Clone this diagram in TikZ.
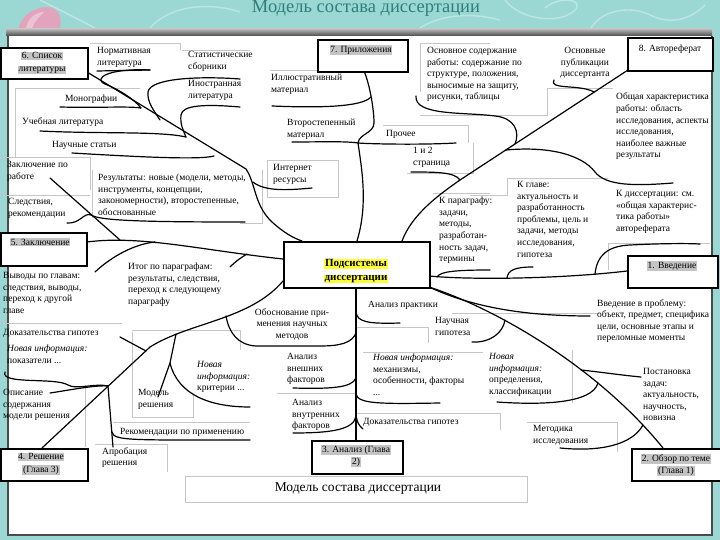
\documentclass[tikz,border=0pt]{standalone}
\usepackage{fontspec}
\setmainfont{Liberation Serif}
\setlength{\fboxsep}{0.7pt}
\definecolor{bgteal}{HTML}{9CD8D3}
\definecolor{titleteal}{HTML}{2E7F7C}
\definecolor{framegray}{HTML}{4A4A4A}
\definecolor{hlgray}{HTML}{C4C4C4}
\definecolor{hlyellow}{HTML}{FFFF33}
\definecolor{blobpink}{HTML}{E2A3BC}
\tikzset{
  txt/.style={anchor=north west, inner sep=0pt, align=left, font=\fontsize{9.5}{11.6}\selectfont, execute at begin node=\strut},
  ctxt/.style={txt, anchor=north, align=center},
  catbox/.style={draw=black, line width=1.8pt, fill=white, anchor=north west, inner sep=0pt},
  catlbl/.style={inner sep=0pt, align=center, font=\fontsize{9.5}{12.5}\selectfont},
  br/.style={draw=black, line width=1.2pt, line cap=round},
  gbox/.style={draw=gray!45, line width=0.5pt},
  swirl/.style={draw=white, opacity=0.35, line width=1.4pt}
}
\begin{document}
\begin{tikzpicture}[x=1pt,y=-1pt]
\useasboundingbox (0,0) rectangle (720,540);
\fill[bgteal] (0,0) rectangle (720,540);
% decorative swirls
\draw[swirl] (40,0) .. controls (60,10) and (80,20) .. (95,28);
\draw[swirl] (150,28) .. controls (170,5) and (210,2) .. (240,12);
\draw[swirl] (505,0) .. controls (520,20) and (560,25) .. (575,10) .. controls (585,0) and (560,-5) .. (545,8);
\draw[swirl] (590,30) .. controls (600,10) and (630,5) .. (650,15) .. controls (670,25) and (690,20) .. (705,5);
\draw[swirl] (420,28) .. controls (440,15) and (470,12) .. (500,20);
% pink blob
\fill[blobpink] (18,31) .. controls (20,16) and (34,7) .. (48,7) .. controls (60,8) and (63,20) .. (59,31) -- cycle;
\fill[white, opacity=0.35] (26,28) .. controls (28,18) and (36,12) .. (44,12) .. controls (40,16) and (34,22) .. (32,28) -- cycle;
% title
\node[font=\fontsize{18.5}{19}\selectfont, text=titleteal, anchor=base, inner sep=0pt] (title) at (366,13) {Модель состава диссертации};
% panel
\fill[white] (8,34) rectangle (712,535);
\shade[top color=gray!55, bottom color=framegray] (6,29) rectangle (712,36);
\draw[framegray, line width=2.2pt] (8,36) -- (8,535) -- (712,535) -- (712,36);
% faint box outlines
\draw[gbox] (90,43) -- (180,43) -- (180,50);
\draw[gbox] (182,50) -- (250,50);
\draw[gbox] (15,157) -- (15,88) -- (140,88);
\draw[gbox] (0,157) -- (90,157) -- (90,190);
\draw[gbox] (92,170) -- (92,218);
\draw[gbox] (262,170) -- (262,223) -- (240,223);
\draw[gbox] (0,195) -- (90,195);
\draw[gbox] (270,70) -- (317,70);
\draw[gbox] (420,92) -- (420,43) -- (490,43);
\draw[gbox] (420,115) -- (547,115) -- (547,88) -- (613,88);
\draw[gbox] (383,125) -- (468,125) -- (468,143);
\draw[gbox] (407,173) -- (473,173) -- (473,143);
\draw[gbox] (267,197) -- (267,160) -- (338,160) -- (338,197) -- (267,197);
\draw[gbox] (470,195) -- (507,195) -- (507,178) -- (608,178);
\draw[gbox] (608,270) -- (608,243) -- (710,243);
\draw[gbox] (433,193) -- (490,193);
\draw[gbox] (0,323) -- (122,323);
\draw[gbox] (132,330) -- (240,330) -- (240,350);
\draw[gbox] (132,332) -- (132,417) -- (193,417) -- (193,395);
\draw[gbox] (85,385) -- (85,447);
\draw[gbox] (95,444) -- (167,444) -- (167,472);
\draw[gbox] (113,422) -- (250,422);
\draw[gbox] (357,327) -- (428,327) -- (428,343);
\draw[gbox] (452,313) -- (600,313);
\draw[gbox] (363,352) -- (483,352);
\draw[gbox] (572,350) -- (572,403);
\draw[gbox] (357,413) -- (500,413) -- (500,430);
\draw[gbox] (527,422) -- (617,422) -- (617,452);
\draw[gbox] (277,393) -- (355,393);
\draw[gbox] (185,476) rectangle (527,502);

% ---------- coordinates ----------
% branch 6
\coordinate (r6s) at (87,72);  \coordinate (r6m) at (246,169); \coordinate (r6e) at (302,241);
\coordinate (j6a) at (141,108); \coordinate (j6b) at (160,120); \coordinate (j6c) at (186,137);
\coordinate (j6d) at (214,156); \coordinate (j6e) at (253,182);
\coordinate (n6) at (150,70); \coordinate (n6u) at (97,71);
\coordinate (s6) at (240,79); \coordinate (i6) at (240,107);
\coordinate (m6) at (60,107); \coordinate (u6) at (40,131); \coordinate (ns6) at (72,153);
\coordinate (ir6) at (312,188);
% branch 7
\coordinate (r7s) at (364,71); \coordinate (r7e) at (357,241);
\coordinate (j7a) at (371,97); \coordinate (j7b) at (358,143);
\coordinate (il7) at (272,106); \coordinate (vt7) at (292,142); \coordinate (pr7) at (456,143);
\coordinate (st7) at (411,172);
% branch 8
\coordinate (r8s) at (628,70); \coordinate (r8m) at (460,180); \coordinate (r8e) at (402,241);
\coordinate (j8b) at (594,92); \coordinate (j8c) at (515,144); \coordinate (j8d) at (506,150);
\coordinate (pb8) at (554,80); \coordinate (os8) at (416,96); \coordinate (ob8) at (673,183);
% branch 5
\coordinate (r5s) at (87,242); \coordinate (r5e) at (283,259);
\coordinate (j5a) at (120,240); \coordinate (j5b) at (155,242); \coordinate (j5c) at (247,254);
\coordinate (zr5) at (50,178); \coordinate (sl5) at (67,223); \coordinate (rz5) at (245,222);
\coordinate (vy5) at (95,272); \coordinate (it5) at (230,267);
% branch 1
\coordinate (r1s) at (429,276); \coordinate (r1e) at (627,271);
\coordinate (j1a) at (437,277); \coordinate (j1b) at (507,278); \coordinate (j1c) at (595,274);
\coordinate (tm1) at (490,270); \coordinate (kg1) at (533,267); \coordinate (kd1) at (700,244);
% branch 2
\coordinate (r2s) at (429,287); \coordinate (r2e) at (663,448);
\coordinate (j2a) at (505,320); \coordinate (j2b) at (581,370); \coordinate (j2c) at (598,383); \coordinate (j2d) at (643,425);
\coordinate (vp2) at (590,316); \coordinate (ng2) at (472,342); \coordinate (ps2) at (641,377);
\coordinate (op2) at (497,402); \coordinate (mt2) at (560,448);
% branch 3
\coordinate (r3s) at (356,287); \coordinate (r3e) at (356,440);
\coordinate (j3a) at (356,312); \coordinate (j3b) at (356,333); \coordinate (j3c) at (356,378);
\coordinate (j3d) at (356,394); \coordinate (j3e) at (356,416);
\coordinate (ap3) at (400,323); \coordinate (vn3) at (293,388); \coordinate (mh3) at (440,403);
\coordinate (vu3) at (293,433); \coordinate (dk3) at (363,429);
% branch 4
\coordinate (r4s) at (42,448); \coordinate (r4m) at (150,347); \coordinate (r4e) at (283,281);
\coordinate (j4a) at (108,386); \coordinate (j4b) at (146,351); \coordinate (j4c) at (226,316);
\coordinate (j4d) at (176,334); \coordinate (j4e) at (112,432);
\coordinate (ap4) at (113,447); \coordinate (op4) at (50,393); \coordinate (pk4) at (5,372);
\coordinate (dk4) at (120,337); \coordinate (md4) at (158,397); \coordinate (mk4) at (170,363);
\coordinate (kr4) at (250,407); \coordinate (rk4) at (250,440);

% ---------- connectors ----------
% branch 6
\draw[br] (r6s) -- (r6m) .. controls (256,184) and (254,205) .. (272,222) .. controls (283,232) and (293,238) .. (r6e);
\draw[br] (n6u) -- (n6);
\draw[br] (n6) .. controls (110,68) and (92,78) .. (105,84) .. controls (120,90) and (135,100) .. (j6a);
\draw[br] (s6) .. controls (200,76) and (150,78) .. (148,92) .. controls (147,103) and (155,112) .. (j6b);
\draw[br] (i6) .. controls (205,104) and (182,105) .. (181,115) .. controls (180,124) and (183,130) .. (j6c);
\draw[br] (m6) .. controls (100,108) and (128,106) .. (j6a);
\draw[br] (u6) .. controls (100,134) and (160,131) .. (j6c);
\draw[br] (ns6) .. controls (140,157) and (200,160) .. (j6d);
\draw[br] (j6e) .. controls (265,192) and (290,190) .. (ir6);
% branch 7
\draw[br] (r7s) .. controls (370,85) and (374,110) .. (374,123) .. controls (374,133) and (359,134) .. (j7b) .. controls (362,170) and (368,205) .. (r7e);
\draw[br] (j7a) .. controls (362,107) and (320,108) .. (il7);
\draw[br] (j7b) .. controls (345,141) and (320,142) .. (vt7);
\draw[br] (j7b) .. controls (372,144) and (420,145) .. (pr7);
\draw[br] (st7) .. controls (435,172) and (455,172) .. (r8m);
% branch 8
\draw[br] (r8s) -- (r8m) .. controls (440,194) and (412,214) .. (r8e);
\draw[br] (pb8) .. controls (548,90) and (580,84) .. (j8b);
\draw[br] (os8) .. controls (414,116) and (465,112) .. (495,116) .. controls (515,118) and (520,132) .. (j8c);
\draw[br] (j8d) .. controls (550,146) and (582,155) .. (595,172) .. controls (606,186) and (635,186) .. (ob8);
% branch 5
\draw[br] (r5s) .. controls (140,235) and (200,250) .. (r5e);
\draw[br] (zr5) -- (j5a);
\draw[br] (sl5) .. controls (80,224) and (84,212) .. (91,215) .. controls (100,221) and (150,222) .. (rz5);
\draw[br] (vy5) .. controls (112,256) and (135,244) .. (j5b);
\draw[br] (it5) .. controls (236,261) and (242,257) .. (j5c);
% branch 1
\draw[br] (r1s) .. controls (470,280) and (560,279) .. (r1e);
\draw[br] (j1a) .. controls (440,271) and (460,270) .. (tm1);
\draw[br] (j1b) .. controls (508,270) and (515,267) .. (kg1);
\draw[br] (j1c) .. controls (597,255) and (608,246) .. (630,245) .. controls (650,244) and (680,243) .. (kd1);
% branch 2
\draw[br] (r2s) .. controls (500,310) and (600,370) .. (r2e);
\draw[br] (r2s) .. controls (470,306) and (520,316) .. (vp2);
\draw[br] (ng2) .. controls (490,343) and (503,333) .. (j2a);
\draw[br] (j2b) .. controls (600,372) and (620,375) .. (ps2);
\draw[br] (op2) .. controls (540,405) and (592,404) .. (j2c);
\draw[br] (mt2) .. controls (600,452) and (632,445) .. (j2d);
% branch 3
\draw[br] (r3s) -- (r3e);
\draw[br] (j3a) .. controls (357,322) and (368,324) .. (ap3);
\draw[br] (j3b) .. controls (352,343) and (340,346) .. (320,346) -- (256,346) .. controls (238,345) and (229,333) .. (j4c);
\draw[br] (j3c) .. controls (352,388) and (330,389) .. (vn3);
\draw[br] (j3d) .. controls (358,404) and (380,404) .. (mh3);
\draw[br] (j3e) .. controls (354,430) and (330,433) .. (vu3);
\draw[br] (j3e) .. controls (358,424) .. (dk3);
% branch 4
\draw[br] (r4s) -- (r4m) .. controls (190,322) and (250,320) .. (r4e);
\draw[br] (j4a) -- (ap4);
\draw[br] (op4) .. controls (70,390) and (95,385) .. (j4a);
\draw[br] (pk4) .. controls (0,385) and (55,377) .. (68,385) .. controls (76,390) and (95,383) .. (j4a);
\draw[br] (dk4) -- (j4b);
\draw[br] (md4) -- (mk4) -- (j4d);
\draw[br] (mk4) .. controls (178,395) and (210,407) .. (kr4);
\draw[br] (j4e) .. controls (114,441) and (130,440) .. (rk4);

% ---------- texts ----------
\node[txt] (t1) at (97,47) {Нормативная\\литература};
\node[txt] (t2) at (188,51) {Статистические\\сборники};
\node[txt] (t3) at (188,80) {Иностранная\\литература};
\node[txt] (t4) at (65,93) {Монографии};
\node[txt] (t5) at (22,116) {Учебная литература};
\node[txt] (t6) at (52,139) {Научные статьи};
\node[txt] (t7) at (7,161) {Заключение по\\работе};
\node[txt] (t8) at (98,174) {Результаты: новые (модели, методы,\\инструменты, концепции,\\закономерности), второстепенные,\\обоснованные};
\node[txt] (t9) at (8,198) {Следствия,\\рекомендации};
\node[txt] (t10) at (3,272) {Выводы по главам:\\следствия, выводы,\\переход к другой\\главе};
\node[txt] (t11) at (128,263) {Итог по параграфам:\\результаты, следствия,\\переход к следующему\\параграфу};
\node[txt] (t12) at (3,327) {Доказательства гипотез};
\node[txt] (t13) at (7,345) {\textit{Новая информация:}\\показатели ...};
\node[txt] (t14) at (3,389) {Описание\\содержания\\модели решения};
\node[txt] (t15) at (138,389) {Модель\\решения};
\node[txt] (t16) at (197,361) {\textit{Новая}\\\textit{информация:}\\критерии ...};
\node[txt] (t17) at (120,426) {Рекомендации по применению};
\node[txt] (t18) at (102,447) {Апробация\\решения};
\node[txt] (t19) at (271,74) {Иллюстративный\\материал};
\node[txt] (t20) at (287,119) {Второстепенный\\материал};
\node[txt] (t21) at (386,128) {Прочее};
\node[txt] (t22) at (413,147) {1 и 2\\страница};
\node[txt] (t23) at (273,164) {Интернет\\ресурсы};
\node[txt] (t24) at (427,47) {Основное содержание\\работы: содержание по\\структуре, положения,\\выносимые на защиту,\\рисунки, таблицы};
\node[ctxt] (t25) at (585,47) {Основные\\публикации\\диссертанта};
\node[txt] (t26) at (616,93) {Общая характеристика\\работы: область\\исследования, аспекты\\исследования,\\наиболее важные\\результаты};
\node[txt] (t27) at (517,181) {К главе:\\актуальность и\\разработанность\\проблемы, цель и\\задачи, методы\\исследования,\\гипотеза};
\node[txt] (t28) at (616,190) {К диссертации: см.\\«общая характерис-\\тика работы»\\автореферата};
\node[txt] (t29) at (597,299) {Введение в проблему:\\объект, предмет, специфика\\цели, основные этапы и\\переломные моменты};
\node[txt] (t30) at (439,197) {К параграфу:\\задачи,\\методы,\\разработан-\\ность задач,\\термины};
\node[txt] (t31) at (368,299) {Анализ практики};
\node[txt] (t32) at (435,317) {Научная\\гипотеза};
\node[ctxt] (t33) at (292,308) {Обоснование при-\\менения научных\\методов};
\node[txt] (t34) at (287,353) {Анализ\\внешних\\факторов};
\node[txt] (t35) at (292,399) {Анализ\\внутренних\\факторов};
\node[txt] (t36) at (373,354) {\textit{Новая информация:}\\механизмы,\\особенности, факторы\\...};
\node[txt] (t37) at (489,353) {\textit{Новая}\\\textit{информация:}\\определения,\\классификации};
\node[txt] (t38) at (363,416) {Доказательства гипотез};
\node[txt] (t39) at (533,425) {Методика\\исследования};
\node[txt] (t40) at (643,368) {Постановка\\задач:\\актуальность,\\научность,\\новизна};
\node[font=\fontsize{13.5}{15}\selectfont, inner sep=0pt] (cap) at (358,489) {Модель состава диссертации};

% ---------- category boxes ----------
\node[catbox, minimum width=87pt, minimum height=31pt] (b6) at (0,47) {};
\node[catlbl] (b6t) at (42,63) {\colorbox{hlgray}{6. Список}\\\colorbox{hlgray}{литературы}};
\node[catbox, minimum width=90pt, minimum height=32pt] (b7) at (317,39) {};
\node[catlbl] (b7t) at (361,50) {\colorbox{hlgray}{7. Приложения}};
\node[catbox, minimum width=85pt, minimum height=33pt] (b8) at (627,37) {};
\node[catlbl] (b8t) at (670,49) {8. Автореферат};
\node[catbox, minimum width=86pt, minimum height=33pt] (b5) at (0,232) {};
\node[catlbl, anchor=west] (b5t) at (10,242) {\colorbox{hlgray}{5. Заключение}};
\node[catbox, minimum width=90pt, minimum height=32pt] (b1) at (627,255) {};
\node[catlbl] (b1t) at (672,266) {\colorbox{hlgray}{1. Введение}};
\node[catbox, minimum width=87pt, minimum height=32pt] (b4) at (0,448) {};
\node[catlbl] (b4t) at (41,464) {\colorbox{hlgray}{4. Решение}\\\colorbox{hlgray}{(Глава 3)}};
\node[catbox, minimum width=91pt, minimum height=33pt] (b3) at (311,440) {};
\node[catlbl] (b3t) at (356,456) {\colorbox{hlgray}{3. Анализ (Глава}\\\colorbox{hlgray}{2)}};
\node[catbox, minimum width=89pt, minimum height=32pt] (b2) at (631,448) {};
\node[catlbl] (b2t) at (676,465) {\colorbox{hlgray}{2. Обзор по теме}\\\colorbox{hlgray}{(Глава 1)}};
% centre
\node[catbox, line width=2pt, minimum width=146pt, minimum height=46pt] (c) at (283,241) {};
\node[catlbl, font=\fontsize{11}{14}\selectfont\bfseries] (ct) at (356,271) {\colorbox{hlyellow}{Подсистемы}\\\colorbox{hlyellow}{диссертации}};
\end{tikzpicture}
\end{document}
